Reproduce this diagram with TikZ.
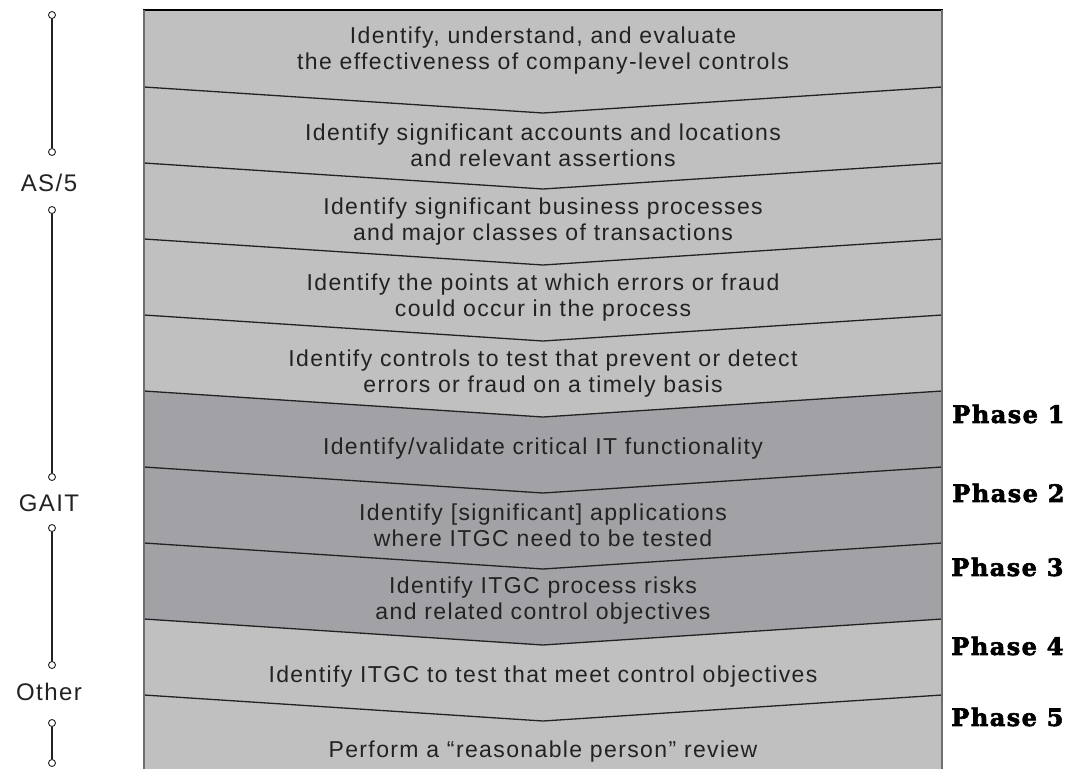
\documentclass[tikz,border=0pt]{standalone}
\usepackage{fontspec}
\setmainfont[LetterSpace=6]{Liberation Sans}
\newfontfamily\phasefont[FakeBold=2.5,LetterSpace=6]{DejaVu Serif}
\definecolor{lightband}{RGB}{192,192,192}
\definecolor{darkband}{RGB}{162,161,166}
\definecolor{inkgray}{RGB}{34,34,34}
\definecolor{edgegray}{RGB}{110,110,110}
\begin{document}
\begin{tikzpicture}[x=1pt,y=-1pt,
    steptext/.style={align=center,text=inkgray,font=\fontsize{23}{26}\selectfont},
    grouplabel/.style={text=inkgray,font=\fontsize{24}{28}\selectfont},
    phaselabel/.style={anchor=east,font=\phasefont\bfseries\fontsize{24}{26}\selectfont},
    chevron/.style={draw=inkgray,line width=1.3pt}]
        \useasboundingbox (0,0) rectangle (1077,769);
        % bands
        \fill[lightband] (144,10) rectangle (942,769);
        \fill[darkband] (144,391) -- (543,417) -- (942,391) -- (942,619) -- (543,645) -- (144,619) -- cycle;
        \foreach \y in {87,163,...,695}
          \draw[chevron] (144,\y) -- (543,\y+26) -- (942,\y);
        \draw[line width=2.5pt,black] (143,10) -- (943,10);
        \draw[line width=1.8pt,edgegray] (144,10) -- (144,769);
        \draw[line width=1.2pt,edgegray] (942,10) -- (942,769);

        \begin{scope}[every node/.style={steptext}]
          \node (s1) at (543,51) {Identify, understand, and evaluate\\the effectiveness of company-level controls};
          \node (s2) at (543,145) {Identify significant accounts and locations\\and relevant assertions};
          \node (s3) at (543,222) {Identify significant business processes\\and major classes of transactions};
          \node (s4) at (543,298) {Identify the points at which errors or fraud\\could occur in the process};
          \node (s5) at (543,374) {Identify controls to test that prevent or detect\\errors or fraud on a timely basis};
          \node (s6) at (543,449) {Identify/validate critical IT functionality};
          \node (s7) at (543,525) {Identify [significant] applications\\where ITGC need to be tested};
          \node (s8) at (543,601) {Identify ITGC process risks\\and related control objectives};
          \node (s9) at (543,677) {Identify ITGC to test that meet control objectives};
          \node (s10) at (543,752) {Perform a “reasonable person” review};
        \end{scope}

        \begin{scope}[every node/.style={phaselabel}]
          \node (ph1) at (1068,414) {Phase 1};
          \node (ph2) at (1068,493) {Phase 2};
          \node (ph3) at (1067,567) {Phase 3};
          \node (ph4) at (1067,646) {Phase 4};
          \node (ph5) at (1067,717) {Phase 5};
        \end{scope}

        \begin{scope}[every node/.style={circle,draw=inkgray,fill=white,line width=0.9pt,inner sep=0pt,minimum size=7pt}]
          \node (d1) at (52,15) {};
          \node (d2) at (52,152) {};
          \node (d3) at (52,210) {};
          \node (d4) at (52,477) {};
          \node (d5) at (52,528) {};
          \node (d6) at (52,665) {};
          \node (d7) at (52,723) {};
          \node (d8) at (52,763) {};
        \end{scope}
        \begin{scope}[every edge/.style={draw=inkgray,line width=1.3pt}]
          \path (d1) edge (d2);
          \path (d3) edge (d4);
          \path (d5) edge (d6);
          \path (d7) edge (d8);
        \end{scope}

        \node[grouplabel] (as5) at (49,183) {AS/5};
        \node[grouplabel] (gait) at (49,503) {GAIT};
        \node[grouplabel] (other) at (49,692) {Other};
\end{tikzpicture}
\end{document}
